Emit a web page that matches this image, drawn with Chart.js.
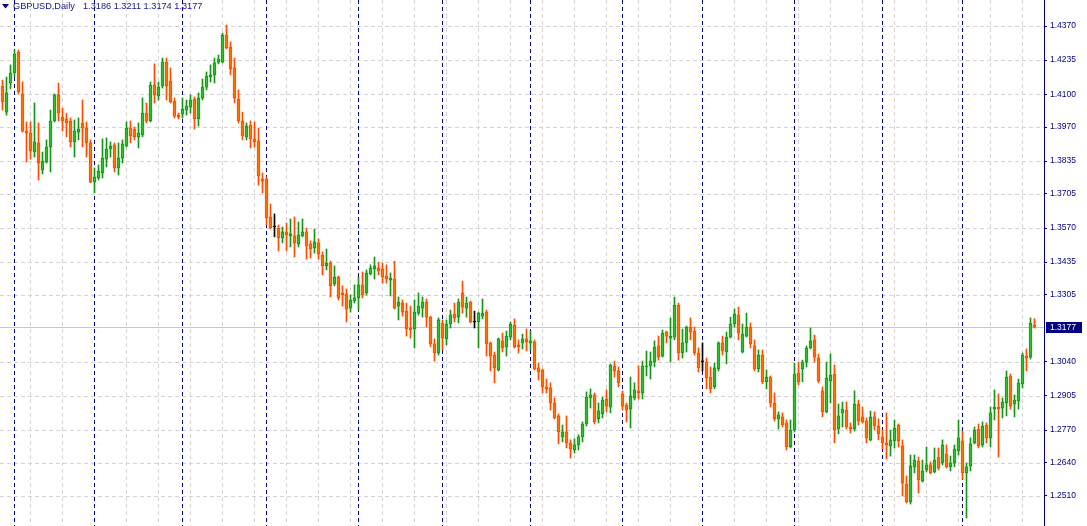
<!DOCTYPE html>
<html><head><meta charset="utf-8">
<script src="https://cdn.jsdelivr.net/npm/chart.js@4.4.1/dist/chart.umd.min.js"></script>
<style>
html,body{margin:0;padding:0;background:#fff;overflow:hidden}
#wrap{position:relative;width:1087px;height:526px}
#c{position:absolute;left:0;top:0}
.t{position:absolute;top:0;font-family:"Liberation Sans",Arial,sans-serif;font-size:9.2px;line-height:12px;color:#14148c;white-space:pre}
</style></head><body>
<div id="wrap"><canvas id="c" width="1087" height="526"></canvas>
<span class="t" id="sym" style="left:13px"></span><span class="t" id="ohlc" style="left:83px"></span></div>
<script>
const symbol = 'GBPUSD,Daily';
const open = [
1.4132,1.4029,1.4144,1.4184,1.4267,1.4101,1.3954,1.3946,1.3871,1.3907,
1.3800,1.3831,1.3891,1.3994,1.4097,1.4009,1.4002,1.3994,1.3911,1.3950,
1.3986,1.3966,1.3907,1.3752,1.3768,1.3788,1.3843,1.3883,1.3899,1.3808,
1.3847,1.3895,1.3966,1.3962,1.3931,1.3939,1.4025,1.3994,1.4136,1.4093,
1.4132,1.4227,1.4152,1.4073,1.4017,1.4021,1.4037,1.4049,1.4081,1.4002,
1.4085,1.4128,1.4168,1.4176,1.4227,1.4227,1.4334,1.4287,1.4204,1.4081,
1.3994,1.3931,1.3978,1.3923,1.3915,1.3764,1.3764,1.3614,1.3574,1.3570,
1.3531,1.3555,1.3539,1.3539,1.3507,1.3539,1.3555,1.3507,1.3491,1.3511,
1.3463,1.3420,1.3431,1.3349,1.3376,1.3313,1.3309,1.3253,1.3281,1.3293,
1.3345,1.3313,1.3388,1.3408,1.3412,1.3408,1.3380,1.3364,1.3368,1.3261,
1.3273,1.3241,1.3174,1.3170,1.3233,1.3253,1.3277,1.3217,1.3111,1.3075,
1.3194,1.3131,1.3190,1.3229,1.3217,1.3313,1.3253,1.3277,1.3198,1.3198,
1.3221,1.3237,1.3115,1.3067,1.3008,1.3123,1.3099,1.3138,1.3186,1.3107,
1.3115,1.3131,1.3115,1.3119,1.3016,1.3008,1.2941,1.2937,1.2877,1.2826,
1.2743,1.2763,1.2719,1.2691,1.2711,1.2743,1.2794,1.2897,1.2909,1.2814,
1.2834,1.2893,1.2861,1.3023,1.3004,1.2913,1.2869,1.2853,1.2897,1.2925,
1.2917,1.3020,1.3024,1.3039,1.3103,1.3063,1.3158,1.3134,1.3138,1.3265,
1.3075,1.3115,1.3178,1.3162,1.3075,1.3040,1.3040,1.2980,1.2941,1.3012,
1.3115,1.3079,1.3138,1.3190,1.3225,1.3079,1.3142,1.3178,1.3103,1.3012,
1.3067,1.2961,1.2980,1.2877,1.2814,1.2822,1.2798,1.2703,1.2770,1.2996,
1.3012,1.3039,1.3095,1.3127,1.3055,1.2925,1.2842,1.2965,1.2992,1.2774,
1.2838,1.2849,1.2782,1.2774,1.2873,1.2822,1.2806,1.2731,1.2822,1.2786,
1.2743,1.2719,1.2707,1.2727,1.2790,1.2707,1.2556,1.2485,1.2624,1.2647,
1.2568,1.2612,1.2632,1.2604,1.2663,1.2640,1.2675,1.2624,1.2640,1.2687,
1.2727,1.2600,1.2628,1.2719,1.2774,1.2711,1.2790,1.2739,1.2853,1.2861,
1.2857,1.2877,1.2984,1.2873,1.2885,1.2953,1.3063,1.3059,1.3186
];
const high = [
1.4156,1.4168,1.4216,1.4275,1.4275,1.4148,1.3990,1.3990,1.4065,1.3986,
1.3871,1.3919,1.4037,1.4101,1.4144,1.4045,1.4025,1.4006,1.3998,1.4006,
1.4077,1.3990,1.3919,1.3808,1.3820,1.3923,1.3927,1.3911,1.3907,1.3907,
1.3919,1.3990,1.3994,1.3970,1.3986,1.4085,1.4065,1.4148,1.4220,1.4148,
1.4243,1.4243,1.4204,1.4085,1.4025,1.4085,1.4077,1.4097,1.4089,1.4105,
1.4160,1.4188,1.4216,1.4243,1.4255,1.4342,1.4374,1.4307,1.4243,1.4117,
1.4029,1.3986,1.3994,1.3990,1.3966,1.3788,1.3772,1.3665,1.3626,1.3582,
1.3574,1.3590,1.3606,1.3614,1.3594,1.3606,1.3570,1.3519,1.3566,1.3527,
1.3475,1.3487,1.3439,1.3420,1.3380,1.3341,1.3329,1.3305,1.3345,1.3376,
1.3396,1.3404,1.3424,1.3455,1.3435,1.3431,1.3424,1.3392,1.3439,1.3297,
1.3285,1.3273,1.3261,1.3285,1.3313,1.3297,1.3289,1.3221,1.3131,1.3214,
1.3206,1.3206,1.3245,1.3273,1.3289,1.3360,1.3297,1.3281,1.3241,1.3237,
1.3289,1.3245,1.3119,1.3079,1.3134,1.3154,1.3162,1.3198,1.3210,1.3127,
1.3150,1.3170,1.3162,1.3127,1.3035,1.3012,1.2972,1.2957,1.2897,1.2834,
1.2790,1.2826,1.2731,1.2735,1.2751,1.2802,1.2921,1.2933,1.2917,1.2877,
1.2901,1.2929,1.3031,1.3043,1.3020,1.2925,1.2877,1.2980,1.2957,1.3024,
1.3043,1.3083,1.3079,1.3123,1.3142,1.3166,1.3162,1.3214,1.3297,1.3273,
1.3170,1.3182,1.3214,1.3178,1.3095,1.3115,1.3055,1.3020,1.3035,1.3119,
1.3142,1.3158,1.3217,1.3249,1.3257,1.3190,1.3233,1.3194,1.3127,1.3087,
1.3087,1.3008,1.2984,1.2917,1.2842,1.2838,1.2810,1.2810,1.3035,1.3039,
1.3047,1.3103,1.3174,1.3146,1.3071,1.2941,1.3039,1.3071,1.3028,1.2873,
1.2881,1.2881,1.2798,1.2925,1.2889,1.2861,1.2818,1.2845,1.2842,1.2814,
1.2770,1.2838,1.2770,1.2810,1.2794,1.2731,1.2588,1.2671,1.2671,1.2663,
1.2651,1.2703,1.2644,1.2699,1.2699,1.2731,1.2711,1.2667,1.2711,1.2810,
1.2766,1.2640,1.2739,1.2782,1.2794,1.2802,1.2798,1.2861,1.2929,1.2913,
1.2897,1.3004,1.2992,1.2909,1.2972,1.3075,1.3091,1.3214,1.3211
];
const low = [
1.4037,1.4017,1.4121,1.4168,1.4101,1.3950,1.3831,1.3843,1.3851,1.3760,
1.3784,1.3827,1.3792,1.3990,1.3994,1.3954,1.3931,1.3891,1.3851,1.3919,
1.3891,1.3851,1.3749,1.3709,1.3760,1.3768,1.3812,1.3851,1.3792,1.3780,
1.3827,1.3891,1.3907,1.3919,1.3887,1.3931,1.3986,1.3990,1.4065,1.4077,
1.4124,1.4077,1.4065,1.4006,1.4002,1.4006,1.4017,1.4025,1.3962,1.3974,
1.4077,1.4117,1.4148,1.4144,1.4220,1.4224,1.4279,1.4176,1.4065,1.3986,
1.3919,1.3919,1.3887,1.3891,1.3740,1.3709,1.3582,1.3566,1.3535,1.3479,
1.3511,1.3479,1.3495,1.3455,1.3495,1.3535,1.3447,1.3451,1.3471,1.3447,
1.3384,1.3404,1.3297,1.3341,1.3285,1.3261,1.3198,1.3237,1.3273,1.3245,
1.3293,1.3305,1.3384,1.3368,1.3384,1.3352,1.3352,1.3301,1.3249,1.3206,
1.3221,1.3142,1.3134,1.3095,1.3225,1.3217,1.3178,1.3099,1.3043,1.3067,
1.3087,1.3107,1.3174,1.3198,1.3194,1.3233,1.3217,1.3194,1.3174,1.3095,
1.3210,1.3063,1.3004,1.2957,1.3004,1.3079,1.3063,1.3127,1.3095,1.3075,
1.3091,1.3083,1.3087,1.3008,1.2968,1.2917,1.2917,1.2849,1.2814,1.2715,
1.2723,1.2699,1.2659,1.2679,1.2691,1.2723,1.2786,1.2857,1.2794,1.2798,
1.2818,1.2841,1.2838,1.2980,1.2941,1.2849,1.2802,1.2778,1.2889,1.2893,
1.2893,1.2984,1.2972,1.3020,1.3047,1.3059,1.3115,1.3039,1.3127,1.3047,
1.3055,1.3079,1.3127,1.3067,1.3000,1.3004,1.2933,1.2917,1.2933,1.3004,
1.3067,1.3032,1.3134,1.3178,1.3127,1.3075,1.3138,1.3095,1.3004,1.3000,
1.2953,1.2933,1.2861,1.2806,1.2774,1.2782,1.2691,1.2699,1.2762,1.2949,
1.2961,1.3020,1.3091,1.3039,1.2957,1.2822,1.2838,1.2877,1.2719,1.2755,
1.2782,1.2774,1.2758,1.2766,1.2790,1.2798,1.2719,1.2727,1.2770,1.2731,
1.2695,1.2655,1.2667,1.2699,1.2703,1.2509,1.2481,1.2477,1.2600,1.2521,
1.2564,1.2604,1.2596,1.2600,1.2612,1.2632,1.2620,1.2608,1.2624,1.2671,
1.2576,1.2422,1.2608,1.2715,1.2699,1.2703,1.2719,1.2703,1.2810,1.2663,
1.2818,1.2826,1.2853,1.2822,1.2853,1.2937,1.3004,1.3051,1.3174
];
const close = [
1.4069,1.4105,1.4184,1.4259,1.4109,1.3954,1.3946,1.3875,1.3911,1.3827,
1.3835,1.3891,1.3994,1.4097,1.4025,1.3994,1.3986,1.3911,1.3954,1.3962,
1.3966,1.3907,1.3752,1.3772,1.3796,1.3847,1.3883,1.3895,1.3808,1.3847,
1.3903,1.3966,1.3935,1.3931,1.3946,1.4025,1.3994,1.4136,1.4097,1.4128,
1.4227,1.4132,1.4069,1.4013,1.4009,1.4041,1.4053,1.4077,1.4002,1.4085,
1.4128,1.4172,1.4176,1.4224,1.4239,1.4334,1.4283,1.4200,1.4085,1.3994,
1.3935,1.3974,1.3923,1.3911,1.3776,1.3756,1.3610,1.3570,1.3574,1.3531,
1.3555,1.3543,1.3547,1.3511,1.3543,1.3555,1.3499,1.3487,1.3515,1.3467,
1.3420,1.3431,1.3341,1.3376,1.3293,1.3305,1.3249,1.3285,1.3293,1.3345,
1.3305,1.3392,1.3412,1.3420,1.3400,1.3376,1.3368,1.3372,1.3253,1.3277,
1.3237,1.3170,1.3166,1.3237,1.3261,1.3277,1.3217,1.3111,1.3075,1.3206,
1.3134,1.3190,1.3225,1.3214,1.3277,1.3257,1.3273,1.3198,1.3198,1.3233,
1.3233,1.3111,1.3063,1.3016,1.3131,1.3095,1.3142,1.3190,1.3099,1.3099,
1.3131,1.3119,1.3123,1.3012,1.3000,1.2941,1.2933,1.2877,1.2818,1.2763,
1.2763,1.2719,1.2695,1.2711,1.2743,1.2794,1.2901,1.2909,1.2802,1.2846,
1.2889,1.2865,1.3027,1.3004,1.2957,1.2865,1.2849,1.2905,1.2929,1.2917,
1.3024,1.3024,1.3043,1.3099,1.3059,1.3154,1.3142,1.3142,1.3265,1.3075,
1.3115,1.3178,1.3158,1.3075,1.3016,1.3040,1.2976,1.2933,1.3016,1.3115,
1.3083,1.3138,1.3190,1.3229,1.3154,1.3150,1.3178,1.3111,1.3012,1.3067,
1.2961,1.2980,1.2877,1.2814,1.2830,1.2790,1.2703,1.2770,1.2992,1.2961,
1.3039,1.3095,1.3123,1.3059,1.2965,1.2842,1.2976,1.2988,1.2770,1.2826,
1.2853,1.2782,1.2774,1.2873,1.2806,1.2802,1.2739,1.2822,1.2786,1.2755,
1.2719,1.2711,1.2731,1.2778,1.2727,1.2560,1.2485,1.2628,1.2651,1.2572,
1.2608,1.2632,1.2600,1.2651,1.2620,1.2711,1.2624,1.2640,1.2695,1.2739,
1.2600,1.2624,1.2715,1.2770,1.2707,1.2786,1.2739,1.2838,1.2861,1.2853,
1.2881,1.2980,1.2865,1.2889,1.2957,1.3067,1.3055,1.3194,1.3177
];
const monthStarts = [3,23,45,66,89,110,132,155,175,198,220,240];
const gridStart = 7, gridStep = 8;
const priceTicks = [1.4370,1.4235,1.4100,1.3970,1.3835,1.3705,1.3570,1.3435,1.3305,1.3040,1.2905,1.2770,1.2640,1.2510];
const yMin = 1.2390, yMax = 1.4473;
const xMin = -0.625, xMax = 260.375;

const N = close.length;
const idx = close.map((_, i) => i);
const BULL_FILL = '#2fbf2f', BULL_LINE = '#169416';
const BEAR_FILL = '#ff7200', BEAR_LINE = '#ff4a00';
const dir = idx.map(i => close[i] > open[i] ? 1 : (close[i] < open[i] ? -1 : 0));
const bodyFill = dir.map(d => d > 0 ? BULL_FILL : d < 0 ? BEAR_FILL : '#000');
const bodyLine = dir.map(d => d > 0 ? BULL_LINE : d < 0 ? BEAR_LINE : '#000');
const wickCol = dir.map(d => d > 0 ? BULL_LINE : d < 0 ? BEAR_LINE : '#000');

document.getElementById('sym').textContent = symbol;
document.getElementById('ohlc').textContent = [open[N-1], high[N-1], low[N-1], close[N-1]].map(v => v.toFixed(4)).join(' ');

const lines = {
  id: 'lines',
  beforeDatasetsDraw(chart) {
    const { ctx, chartArea: a, scales: { x, y } } = chart;
    ctx.save();
    ctx.lineWidth = 1;
    ctx.strokeStyle = '#d4d4d4';
    ctx.setLineDash([4, 3]);
    priceTicks.forEach(v => {
      const py = Math.round(y.getPixelForValue(v)) + 0.5;
      ctx.beginPath(); ctx.moveTo(a.left, py); ctx.lineTo(a.right, py); ctx.stroke();
    });
    for (let k = gridStart; k < N; k += gridStep) {
      const px = Math.floor(x.getPixelForValue(k)) + 0.5;
      ctx.beginPath(); ctx.moveTo(px, a.top); ctx.lineTo(px, a.bottom); ctx.stroke();
    }
    ctx.strokeStyle = '#00008b';
    ctx.setLineDash([4, 3]);
    monthStarts.forEach(k => {
      const px = Math.floor(x.getPixelForValue(k)) + 0.5;
      ctx.beginPath(); ctx.moveTo(px, a.top); ctx.lineTo(px, a.bottom); ctx.stroke();
    });
    ctx.setLineDash([]);
    ctx.strokeStyle = '#c8c8c8';
    const cy = Math.round(y.getPixelForValue(close[N-1])) + 0.5;
    ctx.beginPath(); ctx.moveTo(a.left, cy); ctx.lineTo(a.right, cy); ctx.stroke();
    ctx.restore();
  },
  afterDraw(chart) {
    const { ctx, chartArea: a, scales: { y } } = chart;
    ctx.save();
    const cy = Math.round(y.getPixelForValue(close[N-1]));
    ctx.fillStyle = '#000080';
    ctx.fillRect(a.right + 2, cy - 5, 36, 11);
    ctx.fillStyle = '#ffffff';
    ctx.font = '8.5px "Liberation Sans", Arial, sans-serif';
    ctx.textBaseline = 'middle';
    ctx.fillText(close[N-1].toFixed(4), a.right + 6, cy + 0.5);
    // title marker triangle
    ctx.fillStyle = '#000080';
    ctx.beginPath(); ctx.moveTo(2, 4); ctx.lineTo(9, 4); ctx.lineTo(5.5, 8.5); ctx.closePath(); ctx.fill();
    ctx.restore();
  }
};

new Chart(document.getElementById('c'), {
  type: 'bar',
  data: {
    datasets: [
      {
        label: 'body',
        data: idx.map(i => ({ x: i, y: [open[i], close[i]] })),
        backgroundColor: bodyFill,
        borderColor: bodyLine,
        borderWidth: 1,
        borderSkipped: false,
        barThickness: 3,
        minBarLength: 1,
        grouped: false,
        order: 0
      },
      {
        label: 'wick',
        data: idx.map(i => ({ x: i, y: [low[i], high[i]] })),
        backgroundColor: wickCol,
        borderWidth: 0,
        barThickness: 1,
        grouped: false,
        order: 1
      }
    ]
  },
  options: {
    responsive: false,
    animation: false,
    devicePixelRatio: 1,
    events: [],
    layout: { padding: 0 },
    plugins: { legend: { display: false }, tooltip: { enabled: false }, title: { display: false } },
    scales: {
      x: { type: 'linear', display: false, min: xMin, max: xMax, offset: false },
      y: {
        type: 'linear', position: 'right', min: yMin, max: yMax,
        afterBuildTicks(s) { s.ticks = priceTicks.map(v => ({ value: v })); },
        afterFit(s) { s.width = 43; s.paddingTop = 0; s.paddingBottom = 0; },
        ticks: {
          autoSkip: false, color: '#000080', padding: 3,
          font: { family: '"Liberation Sans", Arial, sans-serif', size: 8.5 },
          callback: v => Number(v).toFixed(4)
        },
        grid: { drawOnChartArea: false, drawTicks: true, tickLength: 3, tickColor: '#000080', color: '#000080' },
        border: { display: true, color: '#000080', width: 1 }
      }
    }
  },
  plugins: [lines]
});
</script>
</body></html>
